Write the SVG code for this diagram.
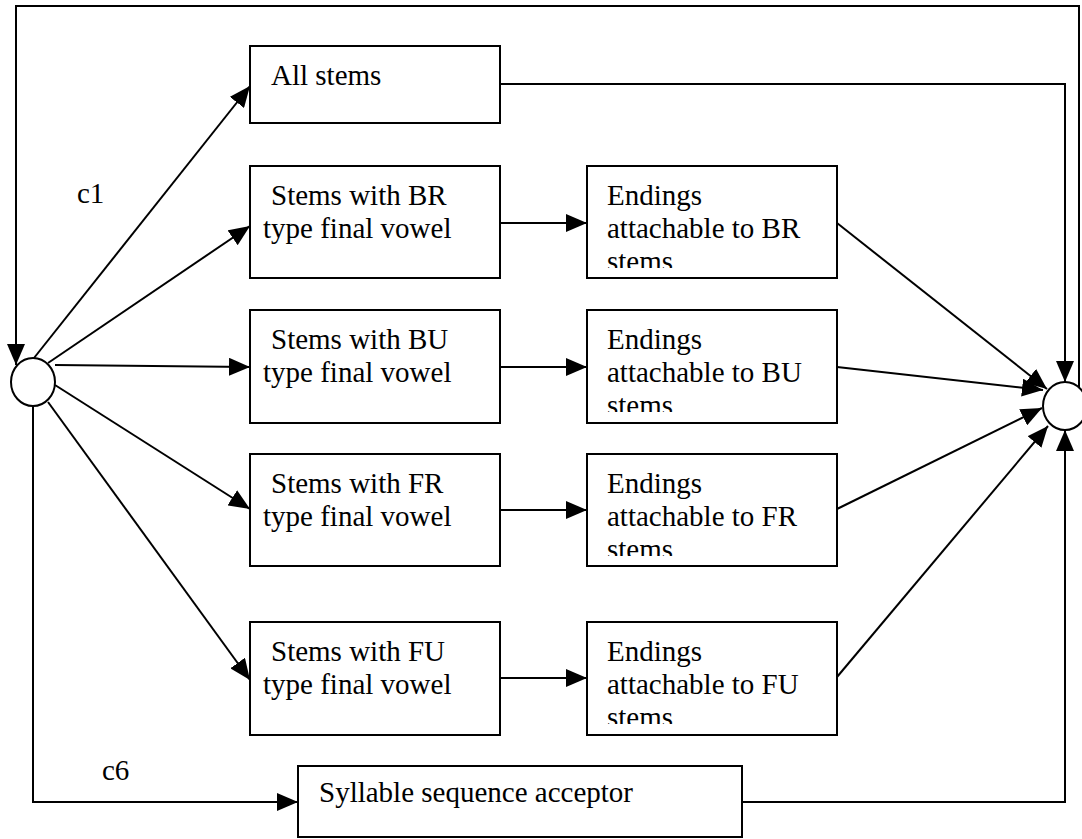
<svg xmlns="http://www.w3.org/2000/svg" width="1082" height="839" viewBox="0 0 1082 839">
  <style>
    .box { fill: #fff; stroke: #000; stroke-width: 2; }
    .st { fill: #fff; stroke: #000; stroke-width: 2; }
    .arr { fill: none; stroke: #000; stroke-width: 2; marker-end: url(#head); }
    text { font-family: "Liberation Serif", "Times New Roman", serif; font-size: 29px; fill: #000; }
  </style>
  <defs>
    <marker id="head" markerUnits="userSpaceOnUse" markerWidth="21" markerHeight="18" refX="21" refY="9" orient="auto" viewBox="0 0 21 18">
      <path d="M0,0 L21,9 L0,18 Z" fill="#000"/>
    </marker>
    <clipPath id="clipBR"><rect x="587" y="166" width="250" height="102"/></clipPath>
    <clipPath id="clipBU"><rect x="587" y="310" width="250" height="102"/></clipPath>
    <clipPath id="clipFR"><rect x="587" y="454" width="250" height="102"/></clipPath>
    <clipPath id="clipFU"><rect x="587" y="622" width="250" height="102"/></clipPath>
  </defs>

  <!-- connectors -->
  <g id="connectors">
    <!-- feedback loop from final state back to initial state -->
    <polyline class="arr" points="1079,388 1079,6 16,6 16,365"/>
    <!-- initial state fan-out -->
    <line class="arr" x1="34" y1="358" x2="250" y2="86"/>
    <line class="arr" x1="48" y1="363" x2="250" y2="226"/>
    <line class="arr" x1="55" y1="365" x2="250" y2="367"/>
    <line class="arr" x1="55" y1="385" x2="250" y2="509"/>
    <line class="arr" x1="48" y1="402" x2="250" y2="680"/>
    <polyline class="arr" points="33,406 33,802 298,802"/>
    <!-- stems to endings -->
    <line class="arr" x1="500" y1="223" x2="587" y2="223"/>
    <line class="arr" x1="500" y1="367" x2="587" y2="367"/>
    <line class="arr" x1="500" y1="510" x2="587" y2="510"/>
    <line class="arr" x1="500" y1="678" x2="587" y2="678"/>
    <!-- into final state -->
    <polyline class="arr" points="500,84 1065,84 1065,382"/>
    <line class="arr" x1="837" y1="223" x2="1047" y2="389"/>
    <line class="arr" x1="837" y1="367" x2="1043" y2="390"/>
    <line class="arr" x1="837" y1="509" x2="1042" y2="408"/>
    <line class="arr" x1="837" y1="677" x2="1048" y2="426"/>
    <polyline class="arr" points="742,802 1065,802 1065,430"/>
  </g>

  <!-- edge labels -->
  <text x="77" y="203">c1</text>
  <text x="102" y="780">c6</text>

  <!-- states -->
  <g id="start"><ellipse class="st" cx="33" cy="382" rx="22" ry="24"/></g>
  <g id="final"><ellipse class="st" cx="1065" cy="406" rx="22" ry="24"/></g>

  <!-- stem lexicons -->
  <g id="all-stems">
    <rect class="box" x="250" y="46" width="250" height="77"/>
    <text x="271" y="85">All stems</text>
  </g>
  <g id="stems-br">
    <rect class="box" x="250" y="166" width="250" height="112"/>
    <text x="271" y="205">Stems with BR</text>
    <text x="263" y="238">type final vowel</text>
  </g>
  <g id="stems-bu">
    <rect class="box" x="250" y="310" width="250" height="113"/>
    <text x="271" y="349">Stems with BU</text>
    <text x="263" y="382">type final vowel</text>
  </g>
  <g id="stems-fr">
    <rect class="box" x="250" y="454" width="250" height="112"/>
    <text x="271" y="493">Stems with FR</text>
    <text x="263" y="526">type final vowel</text>
  </g>
  <g id="stems-fu">
    <rect class="box" x="250" y="622" width="250" height="113"/>
    <text x="271" y="661">Stems with FU</text>
    <text x="263" y="694">type final vowel</text>
  </g>

  <!-- ending lexicons -->
  <g id="endings-br">
    <rect class="box" x="587" y="166" width="250" height="112"/>
    <g clip-path="url(#clipBR)">
      <text x="607" y="205">Endings</text>
      <text x="607" y="238">attachable to BR</text>
      <text x="607" y="271">stems</text>
    </g>
  </g>
  <g id="endings-bu">
    <rect class="box" x="587" y="310" width="250" height="113"/>
    <g clip-path="url(#clipBU)">
      <text x="607" y="349">Endings</text>
      <text x="607" y="382">attachable to BU</text>
      <text x="607" y="415">stems</text>
    </g>
  </g>
  <g id="endings-fr">
    <rect class="box" x="587" y="454" width="250" height="112"/>
    <g clip-path="url(#clipFR)">
      <text x="607" y="493">Endings</text>
      <text x="607" y="526">attachable to FR</text>
      <text x="607" y="559">stems</text>
    </g>
  </g>
  <g id="endings-fu">
    <rect class="box" x="587" y="622" width="250" height="113"/>
    <g clip-path="url(#clipFU)">
      <text x="607" y="661">Endings</text>
      <text x="607" y="694">attachable to FU</text>
      <text x="607" y="727">stems</text>
    </g>
  </g>

  <!-- syllable acceptor -->
  <g id="syllable">
    <rect class="box" x="298" y="766" width="444" height="71"/>
    <text x="319" y="802">Syllable sequence acceptor</text>
  </g>
</svg>
